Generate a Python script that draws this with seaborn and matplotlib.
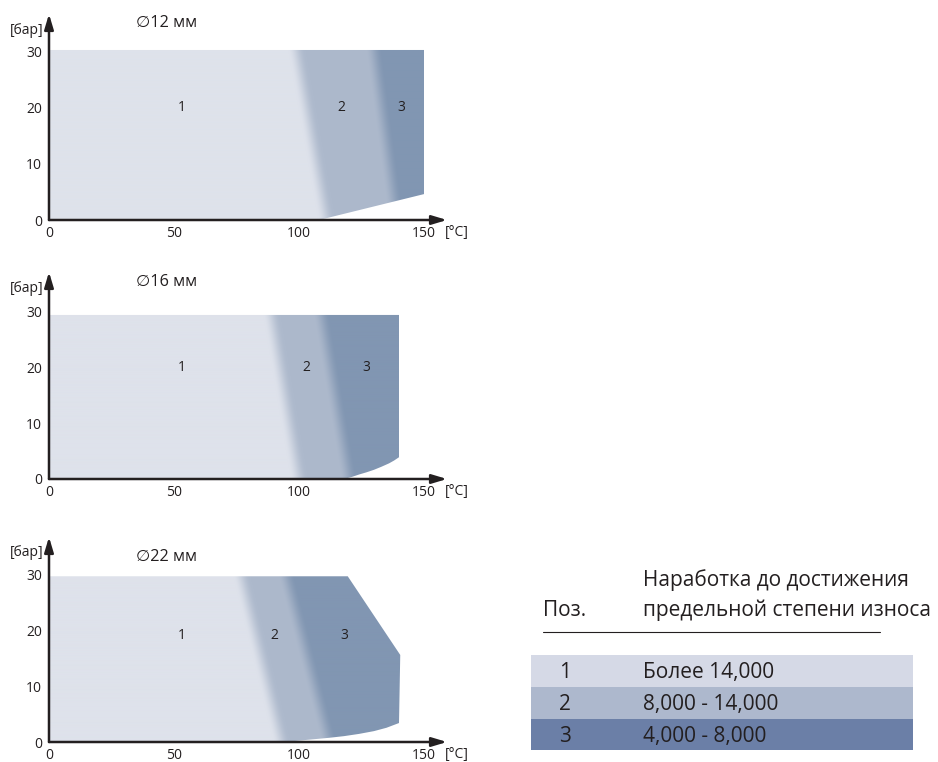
import numpy as np
import matplotlib
matplotlib.use("Agg")
import matplotlib.pyplot as plt
from matplotlib.patches import Polygon, Rectangle
import seaborn as sns

# цвета зон на графиках и в таблице
zone_colors = ["#dee2eb", "#adb9cc", "#8196b2"]
table_colors = ["#d5d9e6", "#adb8cd", "#6b7fa7"]

titles = ["∅12 мм", "∅16 мм", "∅22 мм"]

# контуры рабочих областей (x - температура, °C; y - давление, бар)
outline_12_x = [0, 108, 150, 150, 0]
outline_12_y = [0, 0, 4.6, 30.2, 30.2]
outline_16_x = [0, 118, 121, 124, 127, 130, 133, 136, 138, 140, 140, 0]
outline_16_y = [0, 0, 0.35, 0.8, 1.2, 1.65, 2.2, 2.8, 3.3, 3.9, 29.4, 29.4]
outline_22_x = [0, 94, 100, 106, 112, 118, 124, 130, 135, 140, 140.5, 119.5, 0]
outline_22_y = [0, 0, 0.25, 0.5, 0.75, 1.05, 1.45, 1.95, 2.55, 3.4, 15.6, 29.7, 29.7]

# границы зон 1|2 и 2|3: (x вверху, x внизу)
bounds_12 = [(99, 111), (130, 139)]
bounds_16 = [(89, 100), (109, 120)]
bounds_22 = [(77, 93), (95, 112)]

# положения подписей зон
label_x_12 = [53, 117, 141]
label_x_16 = [53, 103, 127]
label_x_22 = [53, 90, 118]
label_y = [20, 20, 19]

x_ticks = [0, 50, 100, 150]
y_ticks = [0, 10, 20, 30]

positions = ["1", "2", "3"]
hours = ["Более 14,000", "8,000 - 14,000", "4,000 - 8,000"]


def zone_field(xx, yy, bounds, top, ramp=7.0):
    """Плавный переход между зонами 1 -> 2 -> 3."""
    v = np.zeros_like(xx)
    for xt, xb in bounds:
        edge = xb + (xt - xb) * yy / top
        t = np.clip((xx - edge) / ramp + 0.5, 0, 1)
        v += t * t * (3 - 2 * t)
    return v / len(bounds)


sns.set_theme(style="white")
plt.rcParams["font.family"] = ["Open Sans", "DejaVu Sans"]

ink = "#231f20"
W, H = 938, 762
fig = plt.figure(figsize=(W / 100, H / 100), dpi=100)
cmap = sns.blend_palette(zone_colors, as_cmap=True)

panels = [
    (outline_12_x, outline_12_y, bounds_12, label_x_12),
    (outline_16_x, outline_16_y, bounds_16, label_x_16),
    (outline_22_x, outline_22_y, bounds_22, label_x_22),
]
# (ось x в пикселях снизу, высота в пикселях, пикселей на бар)
axes_px = [(220, 206, 5.63), (479, 207, 5.58), (742, 205, 5.58)]
title_y = [35, 35.3, 33.2]
unit_y = [33.7, 34.2, 33.9]

for i, (ox, oy, bounds, lx) in enumerate(panels):
    base, height, scale = axes_px[i]
    ax = fig.add_axes([49 / W, (H - base) / H, 398 / W, height / H])
    ax.patch.set_alpha(0)

    top = max(oy)
    gx = np.linspace(0, 152, 760)
    gy = np.linspace(0, 31, 200)
    xx, yy = np.meshgrid(gx, gy)
    field = zone_field(xx, yy, bounds, top)
    im = ax.imshow(field, extent=(0, 152, 0, 31), origin="lower", cmap=cmap,
                   vmin=0, vmax=1, aspect="auto", interpolation="bilinear")
    poly = Polygon(np.column_stack([ox, oy]), closed=True,
                   facecolor="none", edgecolor="none", transform=ax.transData)
    ax.add_patch(poly)
    im.set_clip_path(poly)

    ax.set_xlim(0, 398 / 2.5)
    ax.set_ylim(0, height / scale)
    ax.grid(False)
    sns.despine(ax=ax, left=True, bottom=True)
    ax.set_xticks(x_ticks)
    ax.set_yticks(y_ticks)
    ax.tick_params(axis="x", length=0, labelsize=10, labelcolor=ink, pad=4.5)
    ax.tick_params(axis="y", length=0, labelsize=10, labelcolor=ink, pad=5)

    arrow = dict(arrowstyle="-|>,head_length=1.0,head_width=0.3",
                 lw=1.8, color=ink, shrinkA=0, shrinkB=0, mutation_scale=9)
    ax.annotate("", xy=(1, 0), xytext=(0, 0), xycoords="axes fraction",
                arrowprops=arrow, annotation_clip=False)
    ax.annotate("", xy=(0, 1), xytext=(0, 0), xycoords="axes fraction",
                arrowprops=arrow, annotation_clip=False)

    for k in range(3):
        ax.text(lx[k], label_y[i], positions[k], ha="center", va="center",
                fontsize=10, color=ink)
    ax.text(35, title_y[i], titles[i], ha="left", va="center",
            fontsize=11.8, color=ink)
    ax.text(-2.4, unit_y[i], "[бар]", ha="right", va="center",
            fontsize=10, color=ink)
    ax.text(158.4, -2.3, "[°C]", ha="left", va="center",
            fontsize=10, color=ink, clip_on=False)

# таблица-легенда, координаты в пикселях
lax = fig.add_axes([0, 0, 1, 1])
lax.set_xlim(0, W)
lax.set_ylim(H, 0)
lax.axis("off")
lax.patch.set_alpha(0)

fs = 15
lax.text(643, 580, "Наработка до достижения", ha="left", va="center",
         fontsize=fs, color=ink)
lax.text(643, 610, "предельной степени износа", ha="left", va="center",
         fontsize=fs, color=ink)
lax.text(543, 610, "Поз.", ha="left", va="center", fontsize=fs, color=ink)
lax.plot([543, 880], [632, 632], color=ink, lw=0.8)

row_h = 31.8
for k in range(3):
    y0 = 655 + k * row_h
    lax.add_patch(Rectangle((531, y0), 382, row_h, facecolor=table_colors[k],
                            edgecolor="none"))
    lax.text(565, y0 + row_h / 2 + 2, positions[k], ha="center", va="center",
             fontsize=fs, color=ink)
    lax.text(643, y0 + row_h / 2 + 2, hours[k], ha="left", va="center",
             fontsize=fs, color=ink)

fig.savefig("out.png", dpi=100)
